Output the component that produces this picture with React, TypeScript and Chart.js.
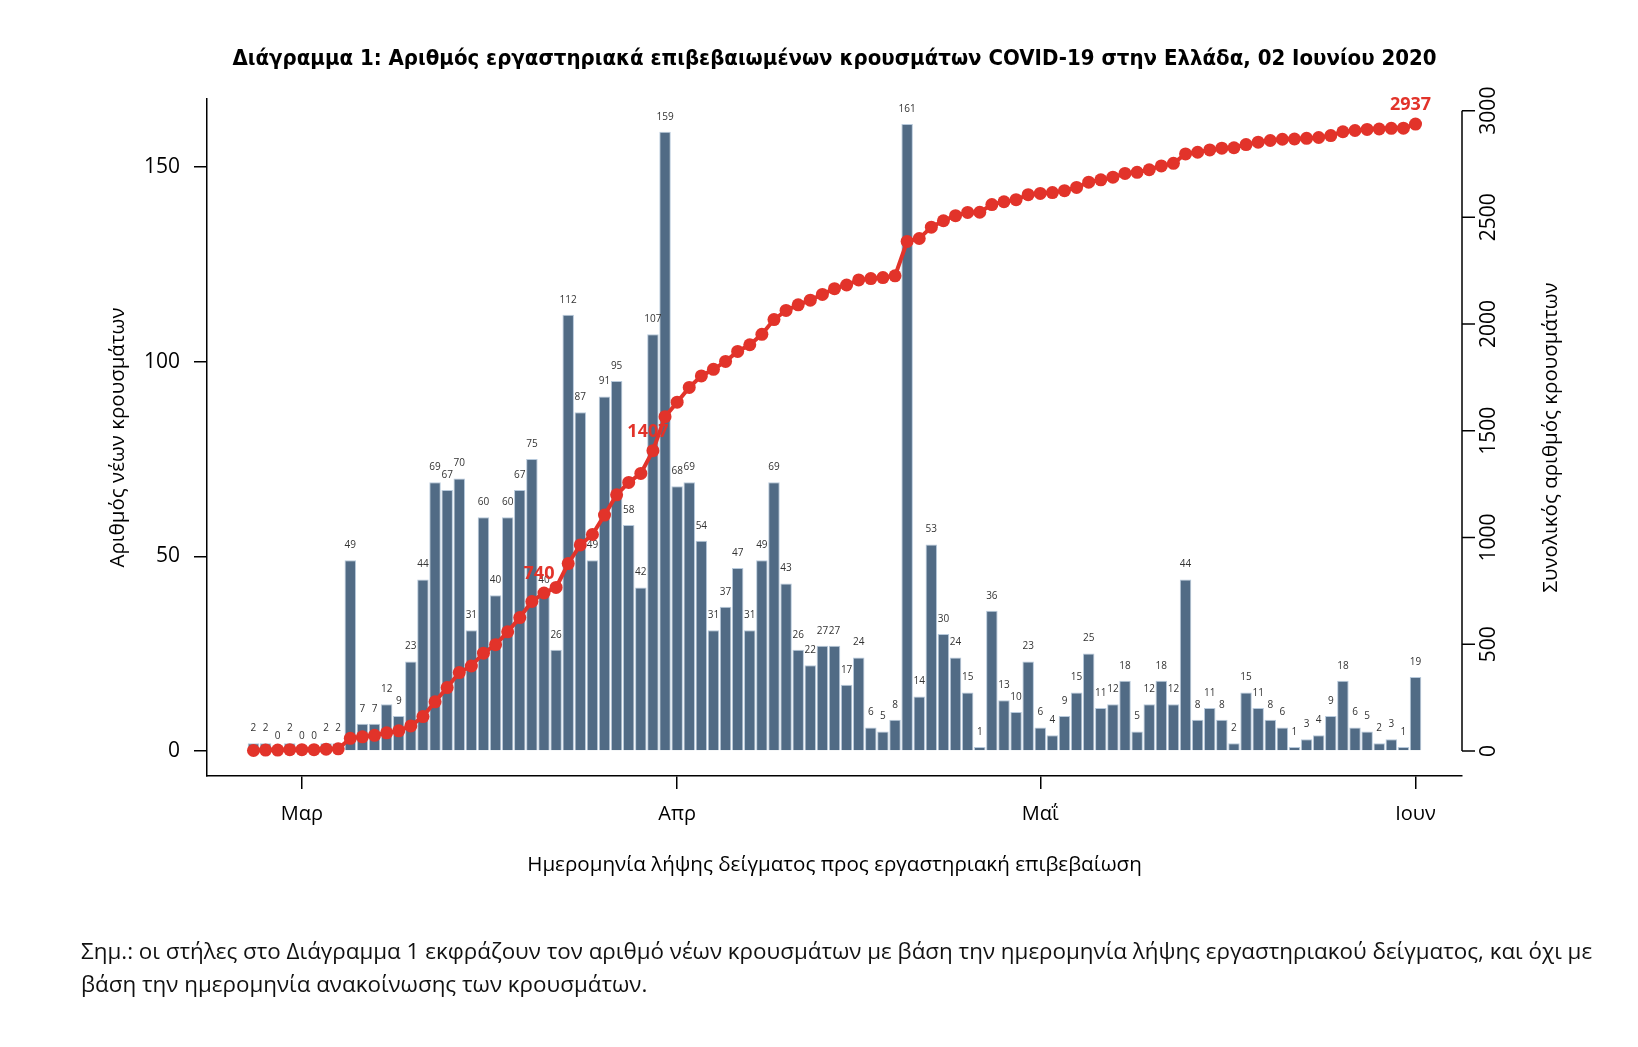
import React, { useEffect, useRef } from 'react';
import { Chart, registerables } from 'chart.js';

Chart.register(...registerables);

// ---------- data ----------
// Daily bars from 26 Feb 2020 (day 0) to 1 Jun 2020 (day 96)
const newCases = [2, 2, 0, 2, 0, 0, 2, 2, 49, 7, 7, 12, 9, 23, 44, 69, 67, 70, 31, 60, 40, 60, 67, 75, 40, 26, 112, 87, 49, 91, 95, 58, 42, 107, 159, 68, 69, 54, 31, 37, 47, 31, 49, 69, 43, 26, 22, 27, 27, 17, 24, 6, 5, 8, 161, 14, 53, 30, 24, 15, 1, 36, 13, 10, 23, 6, 4, 9, 15, 25, 11, 12, 18, 5, 12, 18, 12, 44, 8, 11, 8, 2, 15, 11, 8, 6, 1, 3, 4, 9, 18, 6, 5, 2, 3, 1, 19];
const totalCases = [2, 4, 4, 6, 6, 6, 8, 10, 59, 66, 73, 85, 94, 117, 161, 230, 297, 367, 398, 458, 498, 558, 625, 700, 740, 766, 878, 965, 1014, 1105, 1200, 1258, 1300, 1407, 1566, 1634, 1703, 1757, 1788, 1825, 1872, 1903, 1952, 2021, 2064, 2090, 2112, 2139, 2166, 2183, 2207, 2213, 2218, 2226, 2387, 2401, 2454, 2484, 2508, 2523, 2524, 2560, 2573, 2583, 2606, 2612, 2616, 2625, 2640, 2665, 2676, 2688, 2706, 2711, 2723, 2741, 2753, 2797, 2805, 2816, 2824, 2826, 2841, 2852, 2860, 2866, 2867, 2870, 2874, 2883, 2901, 2907, 2912, 2914, 2917, 2918, 2937];
const highlightDays = [24, 33, 96];
const monthTickDays = [4, 35, 65, 96];
const monthLabels = ['Μαρ', 'Απρ', 'Μαΐ', 'Ιουν'];
const leftTicks = [0, 50, 100, 150];
const rightTicks = [0, 500, 1000, 1500, 2000, 2500, 3000];

const titleText = 'Διάγραμμα 1: Αριθμός εργαστηριακά επιβεβαιωμένων κρουσμάτων COVID-19 στην Ελλάδα, 02 Ιουνίου 2020';
const xTitle = 'Ημερομηνία λήψης δείγματος προς εργαστηριακή επιβεβαίωση';
const yTitle = 'Αριθμός νέων κρουσμάτων';
const y2Title = 'Συνολικός αριθμός κρουσμάτων';
const noteLines = [
  'Σημ.: οι στήλες στο Διάγραμμα 1 εκφράζουν τον αριθμό νέων κρουσμάτων με βάση την ημερομηνία λήψης εργαστηριακού δείγματος, και όχι με',
  'βάση την ημερομηνία ανακοίνωσης των κρουσμάτων.',
];

// ---------- styles ----------
const FONT = "'Open Sans', 'Noto Sans', sans-serif";
const TITLE_FONT = "'DejaVu Sans Condensed', 'DejaVu Sans', sans-serif";
const BAR = '#516b85';
const BAR_EDGE = 'rgba(175,195,215,0.9)';
const RED = '#e2332a';

// R-style 4% axis expansion
const expand = (lo: number, hi: number) => [lo - (hi - lo) * 0.04, hi + (hi - lo) * 0.04];
const [xMin, xMax] = expand(0, newCases.length - 1);
const [yMin, yMax] = expand(0, Math.max(...newCases));
const [y2Min, y2Max] = expand(0, Math.max(...totalCases));

const overlay = {
  id: 'overlay',
  afterDatasetDraw(chart: any, args: any) {
    if (args.index !== 0) return;
    const ctx = chart.ctx;
    const meta = chart.getDatasetMeta(0);
    ctx.save();
    ctx.font = `10px ${FONT}`;
    ctx.fillStyle = '#333';
    ctx.textAlign = 'center';
    ctx.textBaseline = 'middle';
    meta.data.forEach((el: any, i: number) => {
      ctx.fillText(String(newCases[i]), el.x, el.y - 15);
    });
    ctx.restore();
  },
  afterDatasetsDraw(chart: any) {
    const { ctx, scales } = chart;
    ctx.save();
    ctx.font = `bold 18px ${FONT}`;
    ctx.fillStyle = RED;
    ctx.textAlign = 'center';
    ctx.textBaseline = 'middle';
    highlightDays.forEach((d) => {
      const x = scales.x.getPixelForValue(d) - 5;
      const y = scales.y2.getPixelForValue(totalCases[d]) - 19;
      ctx.fillText(String(totalCases[d]), x, y);
    });
    ctx.restore();
  },
  afterDraw(chart: any) {
    const { ctx, chartArea, scales } = chart;
    const y2 = scales.y2;
    const xr = chartArea.right;
    const cx = (chartArea.left + chartArea.right) / 2;
    ctx.save();
    // title
    ctx.fillStyle = '#000';
    ctx.textAlign = 'center';
    ctx.textBaseline = 'middle';
    ctx.font = `bold 22px ${TITLE_FONT}`;
    ctx.fillText(titleText, cx, 59);
    // right axis
    ctx.strokeStyle = '#000';
    ctx.lineWidth = 1.5;
    ctx.beginPath();
    ctx.moveTo(xr, y2.getPixelForValue(rightTicks[rightTicks.length - 1]));
    ctx.lineTo(xr, y2.getPixelForValue(rightTicks[0]));
    rightTicks.forEach((v) => {
      const p = y2.getPixelForValue(v);
      ctx.moveTo(xr, p);
      ctx.lineTo(xr + 13, p);
    });
    ctx.stroke();
    ctx.font = `21px ${FONT}`;
    rightTicks.forEach((v) => {
      const p = y2.getPixelForValue(v);
      ctx.save();
      ctx.translate(xr + 27, p);
      ctx.rotate(-Math.PI / 2);
      ctx.fillText(String(v), 0, 0);
      ctx.restore();
    });
    // axis titles
    const cy = (chartArea.top + chartArea.bottom) / 2;
    ctx.font = `20.5px ${FONT}`;
    ctx.save();
    ctx.translate(118, cy);
    ctx.rotate(-Math.PI / 2);
    ctx.fillText(yTitle, 0, 0);
    ctx.restore();
    ctx.save();
    ctx.translate(1551, cy);
    ctx.rotate(-Math.PI / 2);
    ctx.fillText(y2Title, 0, 0);
    ctx.restore();
    ctx.font = `20.6px ${FONT}`;
    ctx.fillText(xTitle, cx, 865);
    ctx.restore();
  },
};

export default function App() {
  const ref = useRef<HTMLCanvasElement>(null);
  useEffect(() => {
    if (!ref.current) return;
    const chart = new Chart(ref.current, {
      type: 'bar',
      data: {
        datasets: [
          {
            type: 'bar',
            data: newCases.map((v, i) => ({ x: i, y: v })),
            backgroundColor: BAR,
            borderColor: BAR_EDGE,
            borderWidth: 1,
            barPercentage: 0.95,
            categoryPercentage: 1,
            yAxisID: 'y',
            order: 2,
          } as any,
          {
            type: 'line',
            data: totalCases.map((v, i) => ({ x: i, y: v })),
            borderColor: RED,
            backgroundColor: RED,
            borderWidth: 4,
            pointRadius: 6.5,
            pointBackgroundColor: RED,
            pointBorderWidth: 0,
            yAxisID: 'y2',
            order: 1,
          } as any,
        ],
      },
      options: {
        animation: false,
        responsive: false,
        layout: { padding: { left: 0, right: 176, top: 99, bottom: 0 } },
        plugins: {
          legend: { display: false },
          tooltip: { enabled: false },
          title: { display: false },
        },
        scales: {
          x: {
            type: 'linear',
            min: xMin,
            max: xMax,
            offset: false,
            afterFit: (s: any) => { s.height = 271; },
            afterBuildTicks: (s: any) => { s.ticks = monthTickDays.map((v) => ({ value: v })); },
            ticks: {
              autoSkip: false,
              maxRotation: 0,
              padding: 13,
              color: '#000',
              font: { family: FONT, size: 20 },
              callback: (_v: any, i: number) => monthLabels[i],
            },
            grid: { display: true, offset: false, drawOnChartArea: false, drawTicks: true, tickLength: 13, color: '#000', lineWidth: 1.5 },
            border: { display: true, color: '#000', width: 1.5 },
          },
          y: {
            type: 'linear',
            position: 'left',
            min: yMin,
            max: yMax,
            afterFit: (s: any) => { s.width = 207; },
            afterBuildTicks: (s: any) => { s.ticks = leftTicks.map((v) => ({ value: v })); },
            ticks: { padding: 14, color: '#000', font: { family: FONT, size: 21 } },
            grid: { display: true, drawOnChartArea: false, drawTicks: true, tickLength: 13, color: '#000', lineWidth: 1.5 },
            border: { display: true, color: '#000', width: 1.5 },
          },
          y2: {
            type: 'linear',
            position: 'right',
            display: false,
            min: y2Min,
            max: y2Max,
          },
        },
      } as any,
      plugins: [overlay],
    });
    return () => chart.destroy();
  }, []);

  return (
    <div style={{ position: 'absolute', left: 0, top: 0, width: 1638, height: 1047, background: '#fff', overflow: 'hidden' }}>
      <canvas ref={ref} width={1638} height={1047} style={{ display: 'block' }} />
      <div
        style={{
          position: 'absolute',
          left: 81,
          top: 934,
          fontFamily: FONT,
          fontSize: 22.4,
          lineHeight: '33px',
          color: '#111',
          whiteSpace: 'nowrap',
        }}
      >
        {noteLines[0]}
        <br />
        {noteLines[1]}
      </div>
    </div>
  );
}
